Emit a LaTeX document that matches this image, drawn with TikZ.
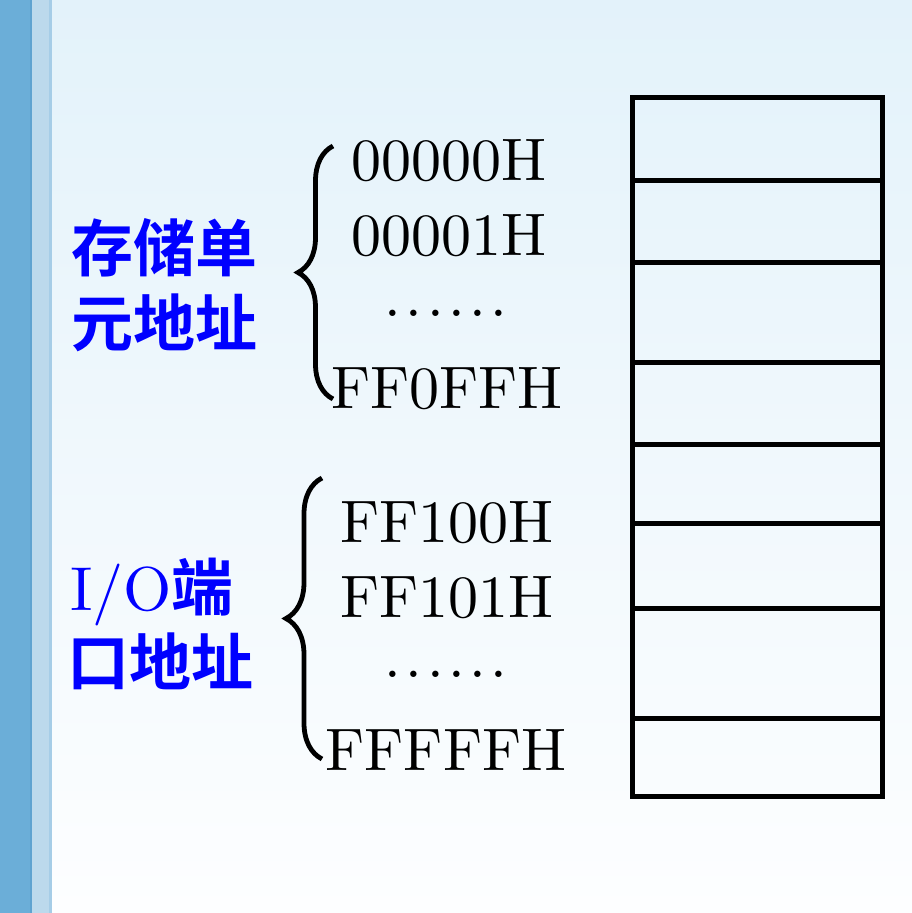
\documentclass[tikz,border=0pt]{standalone}
\usepackage{fontspec}
\setmainfont{lmroman10-regular}[Extension=.otf]
\newfontfamily\cjk{Noto Sans CJK SC}[BoldFont={Noto Sans CJK SC Bold}]
\usepackage{tikz}
\usetikzlibrary{decorations.pathreplacing}
\definecolor{stripdark}{HTML}{6BAED8}
\definecolor{stripedge}{HTML}{5FA3D0}
\definecolor{striplight}{HTML}{BCD9EC}
\definecolor{stripline}{HTML}{A6CDE7}
\definecolor{bgtop}{HTML}{E3F2FA}
\definecolor{bgbottom}{HTML}{FDFEFF}
\newcommand{\sixdots}{.\kern4.5pt.\kern4.5pt.\kern4.5pt.\kern4.5pt.\kern4.5pt.}

\begin{document}
\begin{tikzpicture}[x=1pt, y=-1pt,
		addr/.style={anchor=base, inner sep=0pt, font=\fontsize{60}{60}\selectfont},
		label/.style={align=left, inner sep=0pt, text=blue, font=\fontsize{62}{75}\selectfont},
		addrbrace/.style={decorate, decoration={brace, amplitude=#1}, line width=4.8pt},
		cell/.style={line width=5pt}]
			\useasboundingbox (0,0) rectangle (912,913);
			\shade[top color=bgtop, bottom color=bgbottom] (0,0) rectangle (912,913);
			\fill[stripdark] (0,0) rectangle (30,913);
			\fill[stripedge] (30,0) rectangle (32,913);
			\fill[striplight] (32,0) rectangle (49,913);
			\fill[stripline] (49,0) rectangle (52,913);
			\node[label, anchor=center] (memlabel) at (164,285) {\cjk\bfseries 存储单\\\cjk\bfseries 元地址};
			\node[label, anchor=west] (iolabel) at (67,624) {\hspace{3pt}I/O{\cjk\bfseries 端}\\\cjk\bfseries 口地址};
			\node[addr] (m0) at (449,180) {00000H};
			\node[addr] (m1) at (449,255) {00001H};
			\node[addr] (mdots) at (446,316) {\sixdots};
			\node[addr] (mlast) at (447,408) {FF0FFH};
			\node[addr] (p0) at (447,542) {FF100H};
			\node[addr] (p1) at (447,617) {FF101H};
			\node[addr] (pdots) at (446,677) {\sixdots};
			\node[addr] (plast) at (446,770) {FFFFFH};
			\coordinate (mtop) at (333,146);
			\coordinate (mbot) at (333,399);
			\coordinate (ptop) at (322,478);
			\coordinate (pbot) at (322,759);
			\draw[addrbrace=35] (mbot) -- (mtop);
			\draw[addrbrace=36] (pbot) -- (ptop);
			\draw[cell] (632.5,97.5) rectangle (882.5,796);
			\foreach \y in {180,262,362.5,444,523,608,718}
				\draw[cell] (632.5,\y) -- (882.5,\y);
		\end{tikzpicture}
\end{document}
